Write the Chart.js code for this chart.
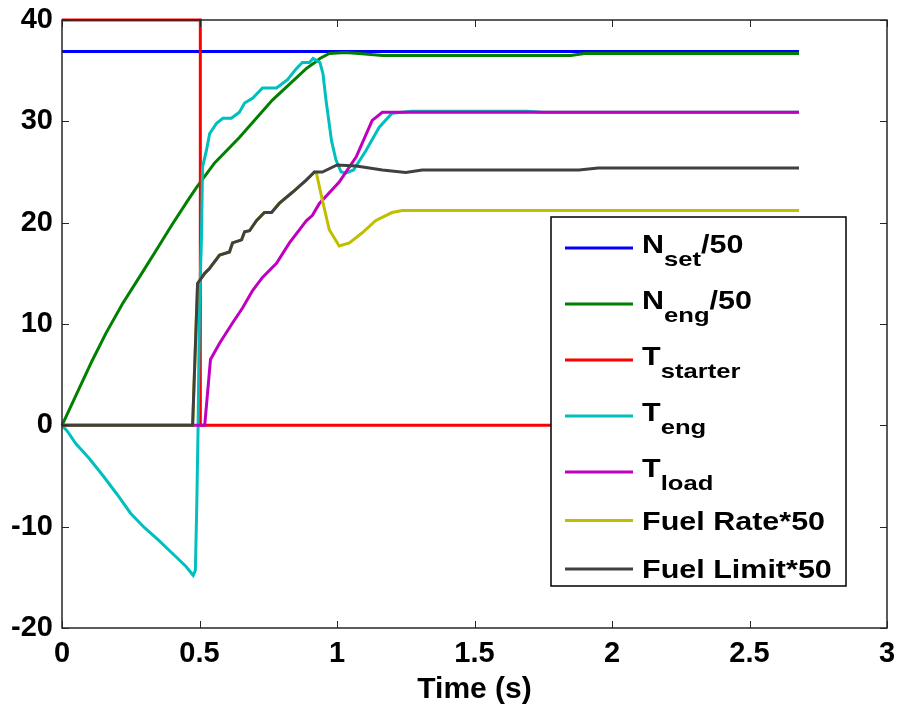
<!DOCTYPE html>
<html lang="en">
<head>
    <meta charset="utf-8">
    <script src="https://cdn.jsdelivr.net/npm/chart.js"></script>
    <style>
        body {
            margin: 0;
            padding: 0;
            background-color: #ffffff;
        }
        #engineChart {
            display: block;
        }
    </style>
</head>
<body>
    <canvas id="engineChart" width="901" height="711"></canvas>
    <script>
        // Axis ticks
        const xTicks = [0, 0.5, 1, 1.5, 2, 2.5, 3];
        const yTicks = [-20, -10, 0, 10, 20, 30, 40];

        // N_set / 50
        const nSetTime = [0, 2.68];
        const nSetVals = [36.9, 36.9];

        // N_eng / 50
        const nEngTime = [0, 0.06, 0.11, 0.16, 0.22, 0.29, 0.35, 0.40, 0.46, 0.49, 0.555, 0.645, 0.765, 0.888, 0.914, 0.938, 0.972, 1.03, 1.08, 1.165, 1.85, 1.9, 2.68];
        const nEngVals = [0, 3.5, 6.4, 9.1, 12.0, 15.0, 17.6, 19.8, 22.3, 23.5, 25.9, 28.4, 32.1, 35.2, 35.7, 36.2, 36.7, 36.8, 36.7, 36.5, 36.5, 36.7, 36.7];

        // T_starter
        const tStarterTime = [0, 0.503, 0.503, 2.68];
        const tStarterVals = [40, 40, 0, 0];

        // T_eng
        const tEngTime = [0, 0.02, 0.05, 0.1, 0.15, 0.2, 0.25, 0.3, 0.35, 0.4, 0.45, 0.477, 0.485, 0.49, 0.495, 0.5, 0.507, 0.511, 0.525, 0.537, 0.562, 0.585, 0.616, 0.645, 0.664, 0.694, 0.729, 0.78, 0.82, 0.852, 0.874, 0.9, 0.913, 0.938, 0.949, 0.96, 0.98, 0.996, 1.015, 1.033, 1.06, 1.105, 1.153, 1.2, 1.273, 1.69, 1.75, 2.68];
        const tEngVals = [0, -0.6, -1.8, -3.3, -5.0, -6.8, -8.7, -10.1, -11.3, -12.6, -13.9, -14.8, -14.3, -8, 0, 12, 18.3, 25.5, 27.1, 28.8, 29.8, 30.3, 30.3, 30.9, 31.8, 32.3, 33.3, 33.3, 34.1, 35.2, 35.8, 35.8, 36.2, 35.8, 34.7, 32.1, 28.1, 26.2, 25.0, 24.9, 25.2, 27.1, 29.4, 30.8, 31.0, 31.0, 30.9, 30.9];

        // T_load
        const tLoadTime = [0, 0.519, 0.54, 0.573, 0.62, 0.657, 0.693, 0.729, 0.78, 0.827, 0.889, 0.91, 0.936, 1.008, 1.07, 1.128, 1.165, 2.68];
        const tLoadVals = [0, 0, 6.5, 8.1, 10.1, 11.6, 13.3, 14.6, 16.0, 18.0, 20.2, 20.7, 21.9, 24.0, 26.5, 30.1, 30.9, 30.9];

        // Fuel Rate * 50 (runs under the limit until ~0.92 s)
        const fuelRateTime = [0, 0.475, 0.493, 0.519, 0.537, 0.573, 0.609, 0.62, 0.653, 0.664, 0.682, 0.707, 0.736, 0.762, 0.79, 0.838, 0.888, 0.918, 0.925, 0.947, 0.972, 1.008, 1.045, 1.092, 1.14, 1.2, 1.237, 2.68];
        const fuelRateVals = [0, 0, 14.0, 15.0, 15.5, 16.8, 17.1, 18.0, 18.3, 19.1, 19.2, 20.2, 21.0, 21.0, 21.9, 23.0, 24.2, 25.0, 24.9, 22.2, 19.3, 17.7, 18.0, 19.0, 20.2, 21.0, 21.2, 21.2];

        // Fuel Limit * 50
        const fuelLimitTime = [0, 0.475, 0.493, 0.519, 0.537, 0.573, 0.609, 0.62, 0.653, 0.664, 0.682, 0.707, 0.736, 0.762, 0.79, 0.838, 0.888, 0.918, 0.947, 1.0, 1.07, 1.165, 1.25, 1.31, 1.88, 1.95, 2.68];
        const fuelLimitVals = [0, 0, 14.0, 15.0, 15.5, 16.8, 17.1, 18.0, 18.3, 19.1, 19.2, 20.2, 21.0, 21.0, 21.9, 23.0, 24.2, 25.0, 25.0, 25.7, 25.6, 25.2, 24.95, 25.2, 25.2, 25.4, 25.4];

        // Legend text: main part, subscript, tail
        const legendMain = ['N', 'N', 'T', 'T', 'T', 'Fuel Rate*50', 'Fuel Limit*50'];
        const legendSub = ['set', 'eng', 'starter', 'eng', 'load', '', ''];
        const legendTail = ['/50', '/50', '', '', '', '', ''];

        const seriesColors = ['#0000ff', '#008000', '#ff0000', '#00bfbf', '#bf00bf', '#bfbf00', '#404040'];

        const FONT = 'Liberation Sans, Arial, sans-serif';

        function toPoints(times, vals) {
            return times.map((t, i) => ({ x: t, y: vals[i] }));
        }

        const seriesData = [
            toPoints(nSetTime, nSetVals),
            toPoints(nEngTime, nEngVals),
            toPoints(tStarterTime, tStarterVals),
            toPoints(tEngTime, tEngVals),
            toPoints(tLoadTime, tLoadVals),
            toPoints(fuelRateTime, fuelRateVals),
            toPoints(fuelLimitTime, fuelLimitVals)
        ];

        // Box around the axes with inward tick marks (matlab look)
        const framePlugin = {
            id: 'frame',
            afterDatasetsDraw(chart) {
                const ctx = chart.ctx;
                const a = chart.chartArea;
                const xs = chart.scales.x;
                const ys = chart.scales.y;
                const len = 7;
                ctx.save();
                ctx.strokeStyle = '#262626';
                ctx.lineWidth = 1;
                ctx.beginPath();
                xTicks.forEach(v => {
                    const px = Math.round(xs.getPixelForValue(v)) + 0.5;
                    ctx.moveTo(px, a.bottom);
                    ctx.lineTo(px, a.bottom - len);
                    ctx.moveTo(px, a.top);
                    ctx.lineTo(px, a.top + len);
                });
                yTicks.forEach(v => {
                    const py = Math.round(ys.getPixelForValue(v)) + 0.5;
                    ctx.moveTo(a.left, py);
                    ctx.lineTo(a.left + len, py);
                    ctx.moveTo(a.right, py);
                    ctx.lineTo(a.right - len, py);
                });
                ctx.stroke();
                ctx.lineWidth = 1.5;
                ctx.strokeRect(a.left, a.top, a.right - a.left, a.bottom - a.top);
                ctx.restore();
            }
        };

        // Legend with subscripts, drawn by hand
        const legendPlugin = {
            id: 'subLegend',
            afterDraw(chart) {
                const ctx = chart.ctx;
                const a = chart.chartArea;
                const boxW = 295, boxH = 369;
                const left = a.right - 41 - boxW;
                const top = a.bottom - 42 - boxH;
                const stretch = 1.22;
                ctx.save();
                ctx.fillStyle = '#ffffff';
                ctx.fillRect(left, top, boxW, boxH);
                ctx.strokeStyle = '#000000';
                ctx.lineWidth = 1.5;
                ctx.strokeRect(left, top, boxW, boxH);

                let y = top + 31;
                legendMain.forEach((main, i) => {
                    const hasSub = legendSub[i] !== '';
                    // sample line
                    ctx.strokeStyle = seriesColors[i];
                    ctx.lineWidth = 3;
                    ctx.beginPath();
                    ctx.moveTo(left + 14, y);
                    ctx.lineTo(left + 82, y);
                    ctx.stroke();

                    ctx.fillStyle = '#000000';
                    ctx.textBaseline = 'alphabetic';
                    const base = hasSub ? y + 5 : y + 9;
                    let x = left + 91;
                    const put = (txt, size, by) => {
                        ctx.font = 'bold ' + size + 'px ' + FONT;
                        ctx.save();
                        ctx.translate(x, by);
                        ctx.scale(stretch, 1);
                        ctx.fillText(txt, 0, 0);
                        ctx.restore();
                        x += ctx.measureText(txt).width * stretch;
                    };
                    put(main, 25, base);
                    if (hasSub) put(legendSub[i], 21, base + 13);
                    if (legendTail[i]) put(legendTail[i], 25, base);
                    const nextSub = i + 1 < legendSub.length && legendSub[i + 1] !== '';
                    y += nextSub ? 56 : 48.5;
                });
                ctx.restore();
            }
        };

        const ctx = document.getElementById('engineChart').getContext('2d');
        new Chart(ctx, {
            type: 'line',
            data: {
                datasets: seriesData.map((pts, i) => ({
                    label: legendMain[i] + legendSub[i] + legendTail[i],
                    data: pts,
                    borderColor: seriesColors[i],
                    backgroundColor: seriesColors[i],
                    borderWidth: 3,
                    pointRadius: 0,
                    tension: 0,
                    fill: false,
                    clip: false,
                    order: seriesData.length - 1 - i
                }))
            },
            options: {
                responsive: false,
                animation: false,
                events: [],
                layout: {
                    padding: { top: 20, right: 14, left: 0, bottom: 0 }
                },
                plugins: {
                    legend: { display: false },
                    tooltip: { enabled: false }
                },
                scales: {
                    x: {
                        type: 'linear',
                        min: 0,
                        max: 3,
                        afterBuildTicks(scale) {
                            scale.ticks = xTicks.map(v => ({ value: v }));
                        },
                        afterFit(scale) {
                            scale.height = 83;
                            scale.paddingLeft = 0;
                            scale.paddingRight = 0;
                        },
                        grid: { display: false, drawTicks: false },
                        border: { display: false },
                        ticks: {
                            color: '#000000',
                            padding: 9,
                            maxRotation: 0,
                            font: { family: FONT, size: 29, weight: 'bold' },
                            callback: v => String(v)
                        },
                        title: {
                            display: true,
                            text: 'Time (s)',
                            color: '#000000',
                            font: { family: FONT, size: 30, weight: 'bold' },
                            padding: { top: 0, bottom: 3 }
                        }
                    },
                    y: {
                        min: -20,
                        max: 40,
                        afterBuildTicks(scale) {
                            scale.ticks = yTicks.map(v => ({ value: v }));
                        },
                        afterFit(scale) {
                            scale.width = 62;
                            scale.paddingTop = 0;
                            scale.paddingBottom = 0;
                        },
                        grid: { display: false, drawTicks: false },
                        border: { display: false },
                        ticks: {
                            color: '#000000',
                            padding: 9,
                            font: { family: FONT, size: 29, weight: 'bold' },
                            callback: v => String(v)
                        }
                    }
                }
            },
            plugins: [framePlugin, legendPlugin]
        });
    </script>
</body>
</html>
